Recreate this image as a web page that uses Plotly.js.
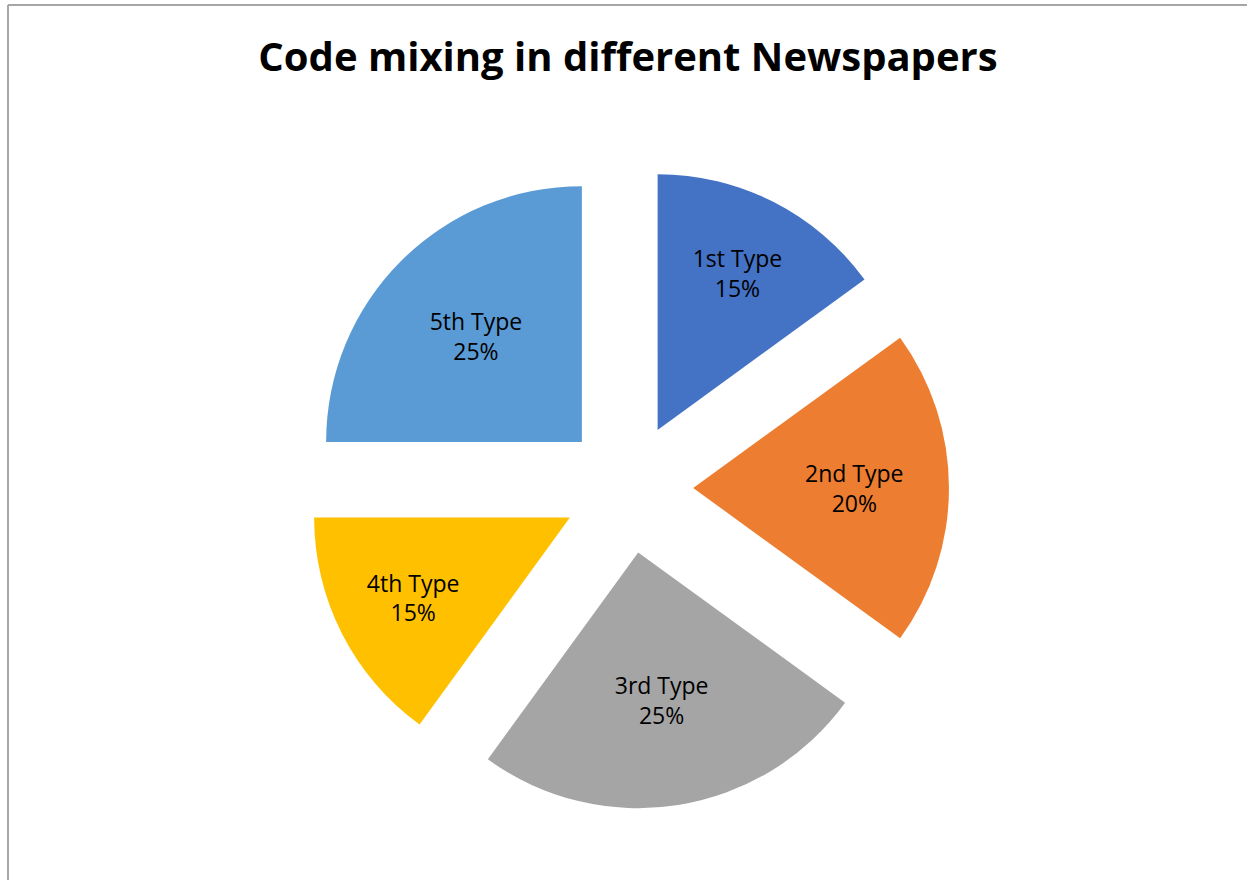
<!DOCTYPE html>
<html>
<head>
<meta charset="utf-8">
<script src="https://cdn.plot.ly/plotly-3.0.1.min.js"></script>
<style>
  html, body { margin: 0; padding: 0; background: #ffffff; }
  #chart { width: 1247px; height: 880px; }
</style>
</head>
<body>
<div id="chart"></div>
<script>
const categories = ["1st Type", "2nd Type", "3rd Type", "4th Type", "5th Type"];
const values = [15, 20, 25, 15, 25];
const colors = ["#4472C4", "#ED7D31", "#A5A5A5", "#FFC000", "#5B9BD5"];
const chartTitle = "Code mixing in different Newspapers";

const trace = {
  type: "pie",
  labels: categories,
  values: values,
  sort: false,
  direction: "clockwise",
  rotation: 0,
  pull: categories.map(() => 0.255),
  marker: { colors: colors, line: { width: 0 } },
  textinfo: "label+percent",
  texttemplate: "%{label}<br>%{percent:.0%}",
  textposition: "inside",
  insidetextorientation: "horizontal",
  textfont: { family: "Open Sans, sans-serif", size: 23, color: "#000000" },
  hoverinfo: "label+percent",
  domain: { x: [0.2462, 0.7610], y: [0.0807, 0.8102] }
};

const layout = {
  width: 1247,
  height: 880,
  margin: { l: 0, r: 0, t: 0, b: 0 },
  paper_bgcolor: "#ffffff",
  showlegend: false,
  title: {
    text: "<b>" + chartTitle + "</b>",
    font: { family: "Open Sans, sans-serif", size: 40, color: "#000000" },
    x: 0.5036,
    xanchor: "center",
    y: 1 - 57 / 880,
    yanchor: "middle"
  },
  shapes: [
    {
      type: "line",
      xref: "paper", yref: "paper",
      x0: 8 / 1247, x1: 8 / 1247,
      y0: 0, y1: 1 - 5 / 880,
      line: { color: "#A6A6A6", width: 2 },
      layer: "below"
    },
    {
      type: "line",
      xref: "paper", yref: "paper",
      x0: 8 / 1247, x1: 1,
      y0: 1 - 5 / 880, y1: 1 - 5 / 880,
      line: { color: "#A6A6A6", width: 2 },
      layer: "below"
    }
  ]
};

Plotly.newPlot("chart", [trace], layout, { displayModeBar: false, staticPlot: true });
</script>
</body>
</html>
